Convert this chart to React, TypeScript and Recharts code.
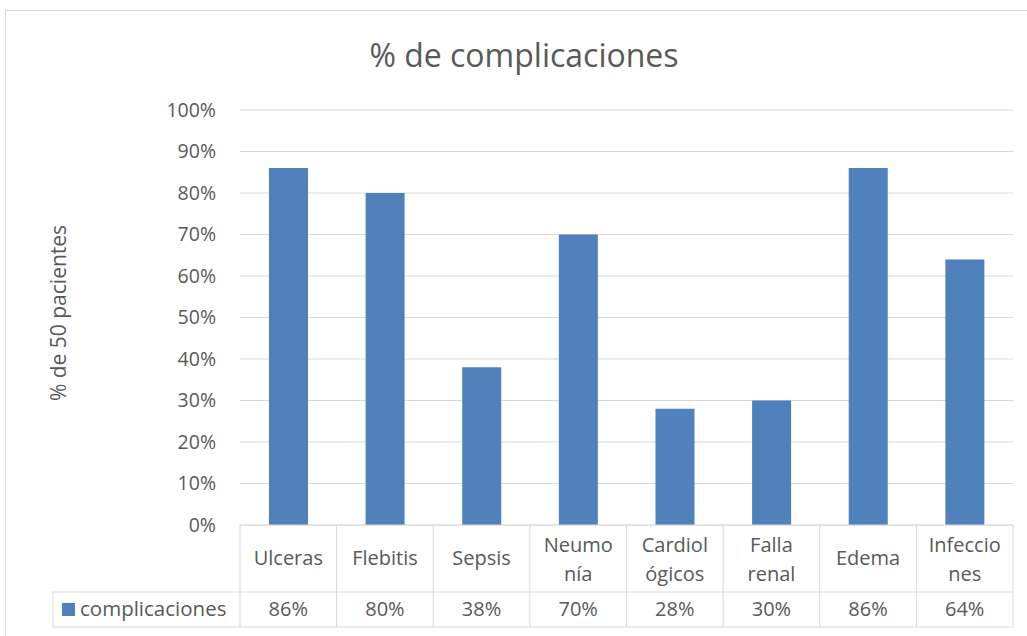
import { BarChart, Bar, XAxis, YAxis, CartesianGrid, Customized } from "recharts";

const categories = ["Ulceras", "Flebitis", "Sepsis", "Neumonía", "Cardiológicos", "Falla renal", "Edema", "Infecciones"];
// how Excel wrapped the labels in the data table
const categoryLines = [["Ulceras"], ["Flebitis"], ["Sepsis"], ["Neumo", "nía"], ["Cardiol", "ógicos"], ["Falla", "renal"], ["Edema"], ["Infeccio", "nes"]];
const values = [86, 80, 38, 70, 28, 30, 86, 64];
const yTicks = [0, 10, 20, 30, 40, 50, 60, 70, 80, 90, 100];
const seriesName = "complicaciones";

const data = categories.map((c, i) => ({ name: c, value: values[i] }));

const BAR = "#4f81bd";
const TEXT = "#595959";
const LINE = "#d9d9d9";
const FONT = "'Open Sans', sans-serif";

const HEADER_H = 67;
const ROW_H = 35;

function TableTick(props: any) {
  const { x, y, payload, index, width } = props;
  const band = (width ?? 773) / categories.length;
  const left = x - band / 2;
  const right = x + band / 2;
  const i = payload.index ?? index;
  const lines = categoryLines[i] ?? [payload.value];
  const textY = lines.length === 1 ? y + 40 : y + 27;
  return (
    <g>
      <line x1={left} y1={y} x2={left} y2={y + HEADER_H + ROW_H} stroke={LINE} />
      {i === categories.length - 1 && (
        <line x1={right} y1={y} x2={right} y2={y + HEADER_H + ROW_H} stroke={LINE} />
      )}
      <line x1={left} y1={y + HEADER_H} x2={right} y2={y + HEADER_H} stroke={LINE} />
      <line x1={left} y1={y + HEADER_H + ROW_H} x2={right} y2={y + HEADER_H + ROW_H} stroke={LINE} />
      {lines.map((l: string, k: number) => (
        <text key={k} x={x} y={textY + k * 29} textAnchor="middle" fill={TEXT} fontSize={20} fontFamily={FONT}>
          {l}
        </text>
      ))}
      <text x={x} y={y + HEADER_H + 24} textAnchor="middle" fill={TEXT} fontSize={20} fontFamily={FONT}>
        {values[i]}%
      </text>
      {i === 0 && (
        <g>
          <line x1={53} y1={y + HEADER_H} x2={left} y2={y + HEADER_H} stroke={LINE} />
          <line x1={53} y1={y + HEADER_H + ROW_H} x2={left} y2={y + HEADER_H + ROW_H} stroke={LINE} />
          <line x1={53} y1={y + HEADER_H} x2={53} y2={y + HEADER_H + ROW_H} stroke={LINE} />
          <rect x={62} y={y + HEADER_H + 11} width={13} height={13} fill={BAR} />
          <text x={80} y={y + HEADER_H + 24} fill={TEXT} fontSize={20.5} fontFamily={FONT}>
            {seriesName}
          </text>
        </g>
      )}
    </g>
  );
}

function Titles() {
  return (
    <g>
      <text x={524} y={67} textAnchor="middle" fill={TEXT} fontSize={32} fontFamily={FONT}>
        % de complicaciones
      </text>
      <text
        x={58}
        y={313}
        textAnchor="middle"
        dominantBaseline="central"
        transform="rotate(-90 58 313)"
        fill={TEXT}
        fontSize={21}
        fontFamily={FONT}
      >
        % de 50 pacientes
      </text>
    </g>
  );
}

export default function App() {
  return (
    <div style={{ position: "absolute", left: 0, top: 0, width: 1027, height: 636, background: "#fff" }}>
      <div style={{ position: "absolute", left: 5, top: 10, width: 1040, height: 640, border: "1px solid #d9d9d9", boxSizing: "border-box" }} />
      <BarChart
        width={1027}
        height={636}
        data={data}
        margin={{ top: 110, right: 14, left: 160, bottom: 6 }}
        barCategoryGap="30%"
      >
        <CartesianGrid vertical={false} stroke={LINE} />
        <XAxis
          dataKey="name"
          height={105}
          axisLine={{ stroke: LINE }}
          tickLine={false}
          tickSize={0}
          tickMargin={0}
          interval={0}
          tick={<TableTick />}
        />
        <YAxis
          width={80}
          domain={[0, 100]}
          ticks={yTicks}
          tickFormatter={(v) => `${v}%`}
          axisLine={false}
          tickLine={false}
          tickMargin={18}
          tick={{ fill: TEXT, fontSize: 19.5, fontFamily: FONT }}
        />
        <Bar dataKey="value" fill={BAR} isAnimationActive={false} />
        <Customized component={Titles} />
      </BarChart>
    </div>
  );
}
